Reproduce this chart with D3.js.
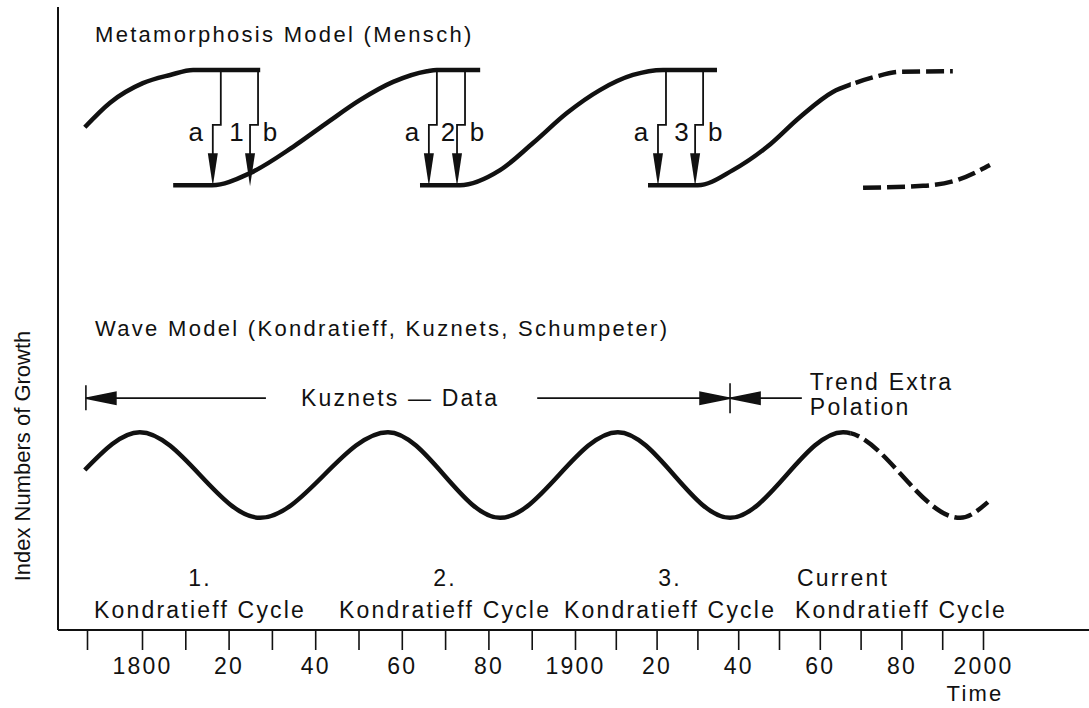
<!DOCTYPE html>
<html>
<head>
<meta charset="utf-8">
<script src="https://cdn.jsdelivr.net/npm/d3@7"></script>
<style>
  body { margin: 0; background: #fff; }
  svg { display: block; font-family: "Liberation Sans", Arial, Helvetica, sans-serif; fill: #111; }
  .lbl { font-size: 23px; letter-spacing: 2.2px; }
  .title { font-size: 22px; letter-spacing: 2.3px; }
  .ab { font-size: 26px; letter-spacing: 0; }
</style>
</head>
<body>
<svg></svg>
<script>
(function() {

  // time axis (the drawn decades are not evenly spaced)
  var axisYears = [1790, 1800, 1900, 2000];
  var tickYears = [1790, 1800, 1810, 1820, 1830, 1840, 1850, 1860, 1870, 1880, 1890,
                   1900, 1910, 1920, 1930, 1940, 1950, 1960, 1970, 1980, 1990, 2000];
  var labelYears = [1800, 1820, 1840, 1860, 1880, 1900, 1920, 1940, 1960, 1980, 2000];
  var tickLabels = ['1800', '20', '40', '60', '80', '1900', '20', '40', '60', '80', '2000'];

  // metamorphosis model: [year, index]
  var sCurve0 = [[1789.6, 79.8], [1794.2, 83.7], [1800.2, 86.8], [1806.5, 88.1], [1811.8, 88.9], [1827.3, 88.9]];
  var sCurve1 = [[1807.2, 70.6], [1816.2, 70.6], [1824.9, 72.5], [1834.9, 76.7], [1842.7, 80.5],
                 [1850.3, 84.1], [1858.0, 87.0], [1865.8, 88.7], [1868.1, 88.9], [1878.1, 88.9]];
  var sCurve2 = [[1864.2, 70.6], [1873.4, 70.6], [1882.7, 73.0], [1890.3, 77.3], [1898.2, 82.1],
                 [1906.1, 85.7], [1914.2, 88.1], [1921.6, 88.9], [1934.8, 88.9]];
  var sCurve3 = [[1917.9, 70.6], [1930.1, 70.6], [1938.7, 73.0], [1947.1, 76.7], [1955.1, 81.4],
                 [1963.2, 85.4], [1968.1, 86.7], [1973.5, 87.8], [1979.7, 88.6], [1992.6, 88.7]];
  var sCurve4 = [[1970.6, 70.2], [1985.3, 70.5], [1993.6, 71.4], [2001.7, 73.8]];

  var upperLevel = 88.9, lowerLevel = 70.6;
  var innovA = [1818.2, 1868.1, 1922.3];
  var innovB = [1826.8, 1874.6, 1931.4];
  var innovNames = ['1', '2', '3'];

  // wave model: [year, index]
  var wave = [[1789.6, 25.4], [1799.6, 31.4], [1827.3, 17.8], [1856.8, 31.4], [1882.7, 17.8],
              [1910.5, 31.4], [1938.0, 17.8], [1965.7, 31.4], [1994.4, 17.8], [2001.2, 20.3]];
  var forecastFrom = 1967.6;

  var kuznetsRange = [1789.8, 1938.0];
  var trendEnd = 1955.6;
  var bandLevel = 36.8;

  var cycleNames = ['1.', '2.', '3.', 'Current'];
  var cycleYears = [1813.4, 1870.0, 1923.3, 1953.9];

  var width = 1089, height = 708;

  var svg = d3.select('svg')
      .attr('width', width)
      .attr('height', height);

  var x = d3.scaleLinear().domain(axisYears).range([87, 142, 575, 983]);
  var y = d3.scaleLinear().domain([0, 100]).range([630, 0]);

  var line = d3.line()
      .x(function(d) { return x(d[0]); })
      .y(function(d) { return y(d[1]); })
      .curve(d3.curveMonotoneX);

  var defs = svg.append('defs');
  defs.append('clipPath').attr('id', 'past')
    .append('rect').attr('x', 0).attr('y', 0).attr('width', x(forecastFrom)).attr('height', height);
  defs.append('clipPath').attr('id', 'future')
    .append('rect').attr('x', x(forecastFrom)).attr('y', 0).attr('width', width).attr('height', height);

  function drawCurve(data, w) {
    svg.append('path')
        .attr('d', line(data))
        .attr('fill', 'none')
        .attr('stroke', '#111')
        .attr('stroke-width', w)
        .attr('clip-path', 'url(#past)');
    svg.append('path')
        .attr('d', line(data))
        .attr('fill', 'none')
        .attr('stroke', '#111')
        .attr('stroke-width', w)
        .attr('stroke-dasharray', '18,6')
        .attr('clip-path', 'url(#future)');
  }

  // axes
  svg.append('line')
      .attr('x1', 58).attr('x2', 58).attr('y1', 7).attr('y2', y(0))
      .attr('stroke', '#111').attr('stroke-width', 2);
  svg.append('line')
      .attr('x1', 58).attr('x2', width).attr('y1', y(0)).attr('y2', y(0))
      .attr('stroke', '#111').attr('stroke-width', 2);

  var axis = svg.append('g')
      .attr('transform', 'translate(0,' + y(0) + ')')
      .call(d3.axisBottom(x)
        .tickValues(tickYears)
        .tickSize(20)
        .tickPadding(8)
        .tickFormat(function(d) {
          var i = labelYears.indexOf(d);
          return i < 0 ? '' : tickLabels[i];
        }));
  axis.select('.domain').remove();
  axis.attr('font-size', null).attr('font-family', null);
  axis.selectAll('.tick line').attr('stroke', '#111').attr('stroke-width', 1.6);
  axis.selectAll('.tick text')
      .attr('class', 'lbl')
      .attr('fill', '#111');

  svg.append('text')
      .attr('class', 'lbl')
      .attr('x', 975).attr('y', 701)
      .attr('text-anchor', 'middle')
      .style('font-size', '22px')
      .text('Time');

  svg.append('text')
      .attr('transform', 'translate(30,456) rotate(-90)')
      .attr('text-anchor', 'middle')
      .style('font-size', '22px')
      .text('Index Numbers of Growth');

  // metamorphosis model
  svg.append('text')
      .attr('class', 'title')
      .attr('x', 95).attr('y', 42)
      .text('Metamorphosis Model (Mensch)');

  [sCurve0, sCurve1, sCurve2, sCurve3, sCurve4].forEach(function(c) { drawCurve(c, 4.5); });

  var yTop = y(upperLevel), yBot = y(lowerLevel), yJog = yTop + 55;

  function innovationArrow(xTop) {
    var xLow = xTop - 8;
    svg.append('path')
        .attr('d', 'M' + xTop + ',' + yTop + 'V' + yJog + 'H' + xLow + 'V' + (yBot - 20))
        .attr('fill', 'none')
        .attr('stroke', '#111')
        .attr('stroke-width', 1.8);
    svg.append('path')
        .attr('d', 'M' + (xLow - 5) + ',' + (yBot - 32) + 'L' + (xLow + 5) + ',' + (yBot - 32) +
                   'L' + xLow + ',' + (yBot + 1) + 'Z')
        .attr('fill', '#111');
  }

  innovNames.forEach(function(n, i) {
    var xa = x(innovA[i]), xb = x(innovB[i]);
    innovationArrow(xa);
    innovationArrow(xb);
    svg.append('text').attr('class', 'ab').attr('x', xa - 25).attr('y', 141)
        .attr('text-anchor', 'middle').text('a');
    svg.append('text').attr('class', 'ab').attr('x', (xa + xb) / 2 - 3).attr('y', 141)
        .attr('text-anchor', 'middle').text(n);
    svg.append('text').attr('class', 'ab').attr('x', xb + 12).attr('y', 141)
        .attr('text-anchor', 'middle').text('b');
  });

  // wave model
  svg.append('text')
      .attr('class', 'title')
      .attr('x', 95).attr('y', 336)
      .text('Wave Model (Kondratieff, Kuznets, Schumpeter)');

  drawCurve(wave, 4.5);

  var yb = y(bandLevel),
      x0 = x(kuznetsRange[0]),
      x1 = x(kuznetsRange[1]),
      x2 = x(trendEnd);

  var kLabel = svg.append('text')
      .attr('class', 'lbl')
      .attr('x', x(1859.6)).attr('y', yb + 8)
      .attr('text-anchor', 'middle')
      .text('Kuznets — Data');
  var kb = kLabel.node().getBBox();

  function tri(tipX, dir) {
    return 'M' + tipX + ',' + yb + 'L' + (tipX + dir * 30) + ',' + (yb - 6) +
           'L' + (tipX + dir * 30) + ',' + (yb + 6) + 'Z';
  }

  var band = svg.append('g').attr('stroke', '#111').attr('stroke-width', 1.6);
  band.append('line').attr('x1', x0).attr('x2', x0).attr('y1', yb - 13).attr('y2', yb + 12);
  band.append('line').attr('x1', x0).attr('x2', kb.x - 35).attr('y1', yb).attr('y2', yb);
  band.append('line').attr('x1', kb.x + kb.width + 38).attr('x2', x1).attr('y1', yb).attr('y2', yb);
  band.append('line').attr('x1', x1).attr('x2', x1).attr('y1', yb - 15).attr('y2', yb + 15);
  band.append('line').attr('x1', x1).attr('x2', x2).attr('y1', yb).attr('y2', yb);
  band.append('path').attr('d', tri(x0, 1)).attr('fill', '#111');
  band.append('path').attr('d', tri(x1, -1)).attr('fill', '#111');
  band.append('path').attr('d', tri(x1, 1)).attr('fill', '#111');

  svg.append('text').attr('class', 'lbl').attr('x', x2 + 8).attr('y', 390).text('Trend Extra');
  svg.append('text').attr('class', 'lbl').attr('x', x2 + 8).attr('y', 415).text('Polation');

  // cycle labels
  cycleNames.forEach(function(n, i) {
    var last = i === cycleNames.length - 1;
    svg.append('text')
        .attr('class', 'lbl')
        .attr('x', x(cycleYears[i]) + (last ? 2 : 0)).attr('y', 586)
        .attr('text-anchor', last ? 'start' : 'middle')
        .text(n);
    svg.append('text')
        .attr('class', 'lbl')
        .attr('x', x(cycleYears[i])).attr('y', 618)
        .attr('text-anchor', last ? 'start' : 'middle')
        .text('Kondratieff Cycle');
  });

})()
</script>
</body>
</html>
